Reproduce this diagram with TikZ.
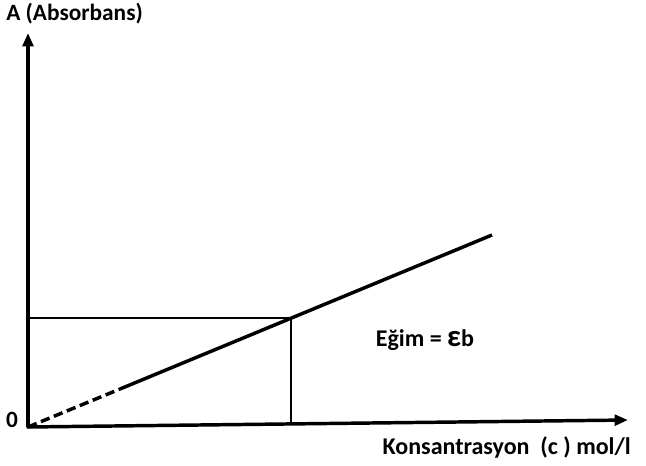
\documentclass[tikz,border=0pt]{standalone}
\usepackage{fontspec}
\setmainfont{Carlito}
\usetikzlibrary{arrows.meta}
\begin{document}
\begin{tikzpicture}[x=0.75pt,y=-0.75pt,
  axis/.style={line width=2.6pt,-{Triangle[length=10pt,width=8pt]}},
  thick line/.style={line width=2.6pt},
  dashline/.style={line width=2.6pt,dash pattern=on 7pt off 3.5pt},
  thin line/.style={line width=1.1pt},
  lbl/.style={font=\bfseries\fontsize{17.5}{20}\selectfont,inner sep=0pt}]
\useasboundingbox (0,0) rectangle (646,465);
\coordinate (O) at (28,427);
\coordinate (Ytip) at (28,33);
\coordinate (Xtip) at (628,420);
\coordinate (D) at (120,389);
\coordinate (E) at (492,235);
\coordinate (P) at (291,318);
\coordinate (PY) at (28,318);
\coordinate (PX) at (291,424);
\draw[thin line] (PY) -- (P) -- (PX);
\draw[axis] (O) -- (Ytip);
\draw[axis] ([xshift=-1pt]O) -- (Xtip);
\draw[dashline] (O) -- (D);
\draw[thick line] (D) -- (E);
\node[lbl,anchor=west] (ylab) at (6,14) {A (Absorbans)};
\node[lbl] (zero) at (12,420) {0};
\node[lbl,font=\bfseries\fontsize{18}{20}\selectfont] (eg) at (425,340) {Eğim = \fontsize{23}{23}\selectfont ε\fontsize{18}{20}\selectfont b};
\node[lbl,anchor=east,font=\bfseries\fontsize{18}{20}\selectfont] (xlab) at (631,447) {Konsantrasyon\ \ (c ) mol/l};
\end{tikzpicture}
\end{document}
